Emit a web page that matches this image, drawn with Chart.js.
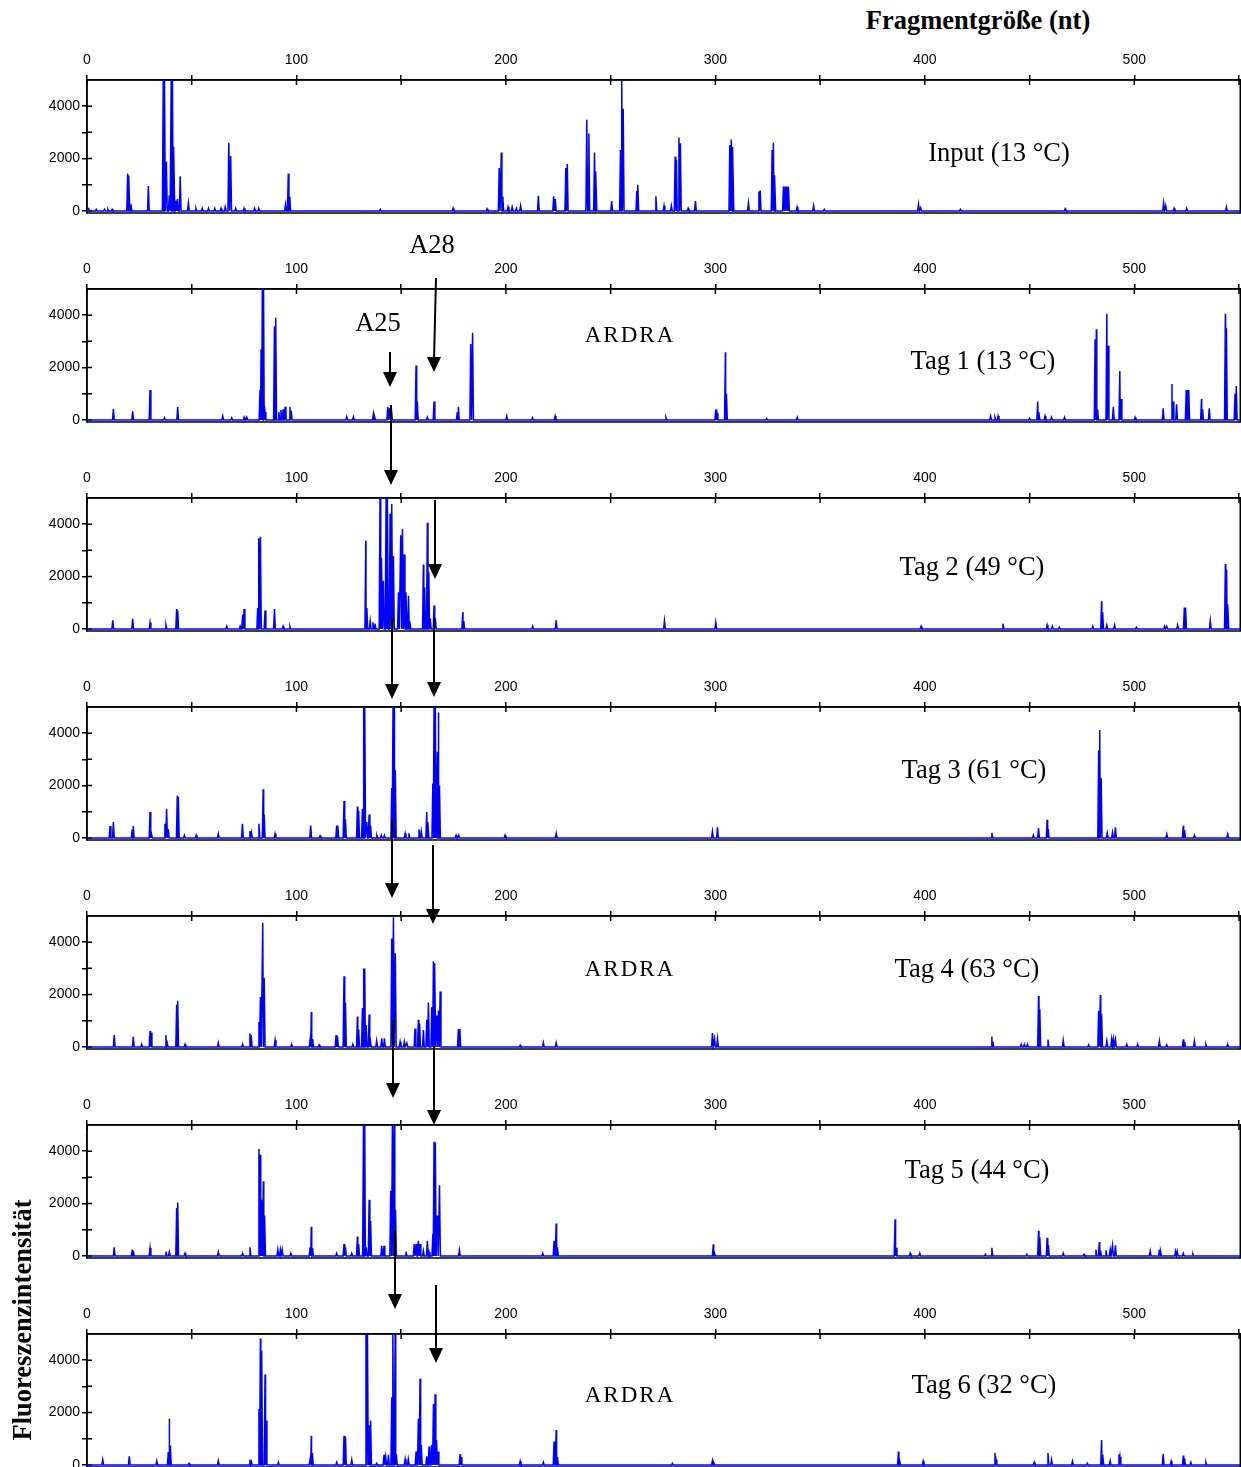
<!DOCTYPE html>
<html>
<head>
<meta charset="utf-8">
<script src="https://cdn.jsdelivr.net/npm/chart.js@4.4.1/dist/chart.umd.min.js"></script>
<style>
  body { margin: 0; background: #fff; }
  #page { position: relative; width: 1241px; height: 1467px; overflow: hidden; }
  canvas.panel { position: absolute; left: 0; }
  .note { position: absolute; transform: translate(-50%, -50%); white-space: nowrap; line-height: 1;
          font-family: "Liberation Serif", "Times New Roman", serif; font-size: 26.5px; color: #000; }
  .bold { font-weight: bold; }
  .ardra { font-size: 23px; letter-spacing: 2px; }
  #arrows { position: absolute; left: 0; top: 0; }
</style>
</head>
<body>
<div id="page"></div>
<script>
// achsen
const xTicks = [0, 50, 100, 150, 200, 250, 300, 350, 400, 450, 500, 550];
const xTickLabels = [0, 100, 200, 300, 400, 500];
const yTicks = [0, 1000, 2000, 3000, 4000];
const yTickLabels = [0, 2000, 4000];
const xMax = 550.6;

const panelTitles = ["Input (13 °C)", "Tag 1 (13 °C)", "Tag 2 (49 °C)", "Tag 3 (61 °C)", "Tag 4 (63 °C)", "Tag 5 (44 °C)", "Tag 6 (32 °C)"];

// peaks: fragmentgröße (nt) und intensität
const inputSize = [0.8, 4.4, 8.4, 10, 12, 19.4, 20.0, 21, 29.3, 36.4, 37.0, 37.9, 39.3, 40.2, 40.8, 41.5, 42.5, 43.2, 44.5, 48.4, 52, 55, 58, 61, 64, 66, 67.7, 68.6, 71, 75, 80, 82, 94.8, 96.1, 96.8, 140, 174.8,
  191, 196.8, 197.8, 198.5, 201, 203, 205, 207, 215.5, 222.8, 223.6, 228.6, 229.3, 238.6, 239.6, 242.3, 243, 250.5, 254.7, 255.3, 256, 262.5, 263, 271.6, 275.5, 279, 280.8, 281.4, 282.6, 283.3, 287, 290.5, 306.9, 307.6, 308.4, 315.8, 320.8, 321.4, 327.1, 327.7, 328.4, 332.5, 333.3, 334.1, 334.9, 339, 346.9, 352,
  397, 398, 417, 467, 514, 515, 519, 525, 544];
const inputHeight = [80, 60, 60, 60, 60, 1430, 1350, 250, 950, 5000, 5000, 1880, 600, 5000, 5000, 2450, 400, 450, 1320, 300, 100, 100, 100, 100, 100, 150, 2600, 2100, 100, 100, 100, 100, 250, 1430, 550, 60, 100,
  80, 1640, 2230, 550, 150, 150, 100, 200, 580, 560, 450, 1640, 1790, 3480, 2960, 2230, 1500, 380, 2330, 5000, 3900, 770, 1000, 560, 200, 200, 2080, 1950, 2800, 2580, 100, 380, 2520, 2730, 2450, 300, 740, 780, 2330, 2600, 1360, 930, 930, 930, 930, 150, 200, 60,
  250, 120, 60, 80, 300, 200, 100, 100, 150];

const tag1Size = [12.6, 21.8, 30.1, 37, 43.3, 64.8, 69.1, 75, 76.3,
  82.6, 83.1, 83.7, 84.5, 85, 89.5, 90.1, 91.6, 92.6, 93.6, 94.6, 96.9, 97.5,
  124, 127.2, 136.7, 137.3, 143.6, 144.5, 145.4, 157.1, 157.7, 162.5, 165.7, 176.8, 177.3, 183.2, 184.1, 200.4, 212.7, 223.5,
  276.4, 300.2, 300.8, 304.8, 305.3, 324.5, 339.1,
  431.4, 433.5, 435, 450, 453.9, 454.5, 457.4, 460.5, 466.7,
  481.3, 481.9, 482.5, 486.9, 487.5, 490, 493.1, 493.7, 500.4,
  513.8, 518, 518.5, 520.2, 524.8, 525.4, 526, 532.1, 532.6, 535.8, 543.5, 544, 548.1, 548.7];
const tag1Height = [410, 330, 1140, 80, 490, 150, 80, 100, 100,
  1140, 2700, 5000, 5000, 300, 3580, 3900, 300, 380, 400, 500, 500, 350,
  120, 120, 200, 120, 500, 450, 350, 2080, 700, 100, 700, 300, 500, 2900, 3330, 150, 80, 150,
  100, 400, 250, 2580, 1000, 60, 100,
  150, 100, 150, 60, 700, 300, 150, 100, 100,
  3080, 3460, 400, 4050, 2830, 500, 1870, 800, 100,
  440, 1370, 700, 600, 1140, 1140, 1140, 800, 400, 440, 4050, 3500, 1000, 1290];

const tag2Size = [12.3, 21.8, 30.1, 37.7, 42.8, 43.3, 66.7, 73.1, 74.3, 75,
  81.5, 82.1, 82.8, 85, 89.5, 93.6, 96.9,
  133.1, 133.6, 135.2, 136.5, 137.5, 139.9, 140.6, 141.5, 142.8, 143.4, 144.7, 145.5, 146.3, 148.7, 149.8, 150.6, 151.4, 152.3, 153.5, 154.2,
  160.6, 161.2, 162.5, 163.2, 163.9, 165.7, 166.3, 179.4, 179.9, 212.8, 224,
  275.7, 300.2, 398.2, 437.3, 458.4, 460.9, 464.2, 480.2, 484.4, 484.9, 486.9, 490.6, 501,
  514.5, 515.5, 520.7, 523.9, 524.5, 536.3, 543.5, 544.1, 544.7];
const tag2Height = [330, 390, 240, 150, 760, 700, 100, 100, 540, 760,
  800, 3460, 3520, 700, 760, 100, 100,
  3370, 800, 300, 250, 200, 5000, 2720, 1840, 5000, 5000, 4400, 4770, 2780, 1400, 3580, 3830, 2840, 1400, 1270, 300,
  2460, 1580, 4050, 2150, 400, 890, 400, 640, 300, 100, 330,
  310, 250, 100, 200, 150, 100, 60, 100, 1060, 630, 150, 150, 60,
  100, 100, 150, 815, 815, 310, 2480, 2260, 940];

const tag3Size = [11, 12.6, 21.6, 22.1, 30.1, 30.8, 37.2, 38, 38.8, 43.1, 43.6, 46.5, 52.1, 62.7,
  74.2, 77.8, 78.5, 82.1, 84.1, 84.6, 89.8, 106.8, 111.3, 119.2, 119.8, 122.7, 123.4,
  129.1, 129.7, 131.5, 132, 132.6, 133.6, 134.7, 135.4, 138.4, 140.5, 142,
  145.5, 146.1, 146.7, 147.2, 151.9, 153.7, 158.5, 159.6, 162.2, 162.8,
  165.1, 165.7, 166.3, 167.3, 167.8, 168.3, 176.2, 177.5, 199.6, 224,
  298.6, 301, 432, 451.8, 454.3, 458.4, 458.9, 483, 483.6, 484.2, 487.1, 489.6, 491, 515.5, 523.4, 524, 528.7, 544.6];
const tag3Height = [450, 610, 325, 450, 990, 150, 540, 1110, 330, 1610, 1560, 100, 100, 160,
  540, 260, 200, 540, 1860, 890, 160, 475, 80, 475, 475, 1410, 700,
  1200, 1040, 1110, 5000, 5000, 610, 890, 475, 100, 100, 100,
  1910, 5000, 5000, 2580, 175, 175, 325, 250, 990, 610,
  2080, 5000, 5000, 3290, 4790, 2000, 100, 100, 100, 175,
  250, 400, 190, 100, 375, 690, 340, 3350, 4120, 2280, 190, 210, 400, 150, 460, 300, 100, 150];

const tag4Size = [13, 22.1, 26.1, 30.1, 30.6, 37.7, 38.3, 42.8, 43.3, 46.8, 62.7, 74.3, 77.8, 78.4,
  82.1, 82.8, 83.9, 84.6, 89.8, 97.7, 106.5, 107.1, 107.7, 110.8, 118.9, 119.6, 122.7, 123.4, 126.9,
  129.1, 129.7, 131.5, 132, 132.6, 133.3, 134.7, 135.3, 138.3, 140.7, 142,
  145.5, 146.3, 147.2, 149.5, 151.5, 152.7, 156.6, 158.2, 158.8, 160.6, 162.2, 163,
  164.6, 165.4, 166.1, 167, 167.8, 168.6, 177.3, 178, 206.8, 217.9, 224,
  298.6, 299.6, 301, 432, 432.5, 446, 447.5, 449, 454.3, 454.9, 458.8, 466.1, 478.2,
  483, 483.8, 484.4, 486.9, 489.2, 490, 491, 496.4, 501.6, 512, 515.5, 523.4, 524, 528.7, 534.2, 544.6];
const tag4Height = [450, 390, 100, 610, 540, 450, 150, 1610, 1760, 100, 160, 100, 510, 450,
  950, 1910, 4740, 2640, 260, 100, 260, 1330, 300, 80, 450, 400, 2700, 1700, 100,
  1160, 660, 1490, 2990, 2990, 830, 1240, 240, 240, 330, 330,
  4140, 4950, 3580, 200, 200, 150, 700, 1040, 890, 640, 1040, 1700,
  1510, 3270, 3200, 1200, 1390, 2120, 680, 680, 60, 160, 160,
  530, 310, 310, 400, 200, 100, 100, 100, 1940, 1440, 275, 250, 80,
  1380, 1980, 1250, 225, 290, 290, 290, 100, 100, 225, 80, 290, 200, 225, 100, 100];

const tag5Size = [13, 21.6, 22.1, 30.1, 37.7, 39.3, 42.8, 43.3, 46.8, 62.7, 74.3, 77.8,
  82.1, 82.6, 83.3, 84.2, 84.8, 91.1, 92.3, 93.2, 97.3, 106.5, 107.1, 107.7, 119.2, 122.7, 123.4, 126.4,
  129.1, 129.7, 132, 132.6, 133.3, 134.7, 135.4, 140.7, 141.8,
  145, 145.8, 146.6, 147.3, 152.3, 156.2, 157.1, 158.2, 159, 160.6, 162.5, 163.3,
  165.1, 165.7, 166.3, 167.3, 168.3, 177.8, 217.6, 223, 224, 224.6,
  299, 299.6, 385.8, 386.3, 393, 397.6, 428.9, 432, 448.7, 454.3, 454.9, 458.4, 459, 466.1, 476,
  481.7, 483.3, 483.9, 486.5, 488.5, 489.6, 491, 507.6, 512, 512.6, 519.7, 520.5, 523.4, 528];
const tag5Height = [325, 240, 200, 300, 160, 160, 1830, 2040, 100, 150, 100, 330,
  4080, 3860, 2140, 2850, 1540, 240, 240, 240, 100, 330, 1110, 300, 100, 450, 330, 100,
  740, 450, 5000, 5000, 330, 2140, 1330, 390, 390,
  2490, 5000, 5000, 1760, 160, 450, 450, 575, 450, 200, 575, 150,
  825, 4360, 4320, 1540, 2700, 225, 100, 575, 1240, 330,
  440, 100, 1400, 310, 100, 100, 60, 310, 60, 960, 710, 690, 400, 100, 60,
  240, 530, 200, 210, 240, 400, 400, 190, 240, 150, 175, 175, 100, 80];

const tag6Size = [7.5, 20.2, 33.3, 38.8, 39.3, 39.8, 48.7, 62.7, 77.8, 78.5,
  82.1, 82.8, 83.4, 85, 85.5, 91.4, 106.5, 107.1, 107.6, 119.2, 122.7, 123.4, 126.4,
  133.2, 133.9, 134.8, 135.4, 138.3, 141.8, 142.6, 143.9, 145.5, 146, 147.1, 147.7,
  151.9, 153.4, 157.1, 158.2, 159, 159.6, 162.2, 163.3, 164.6, 165.4, 166.2, 166.9, 167.6,
  178.1, 178.6, 206.8, 217.9, 223, 224, 224.6,
  279.5, 298.6, 299.3, 387.4, 388, 399.2, 433.5, 434, 452.2, 458.8, 460.5, 470.5, 477.6,
  484.4, 485, 488.5, 492.7, 493.2, 513.8, 517.6, 523.4, 524, 527, 534.2];
const tag6Height = [200, 330, 160, 490, 1760, 740, 60, 160, 200, 120,
  2140, 4830, 4360, 3450, 1700, 100, 200, 1110, 450, 100, 1110, 1070, 200,
  5000, 5000, 1510, 1700, 60, 390, 300, 390, 2580, 5000, 5000, 400,
  225, 225, 510, 1760, 3290, 760, 330, 700, 760, 2330, 2700, 950, 510,
  410, 300, 140, 100, 890, 1330, 300,
  60, 160, 100, 510, 150, 140, 450, 200, 100, 450, 200, 140, 60,
  950, 390, 160, 410, 300, 410, 140, 360, 250, 100, 100];

const panels = [
  [inputSize, inputHeight], [tag1Size, tag1Height], [tag2Size, tag2Height], [tag3Size, tag3Height],
  [tag4Size, tag4Height], [tag5Size, tag5Height], [tag6Size, tag6Height]
];

const page = document.getElementById("page");
const panelTop = 45, panelStep = 209, panelH = 180;
const peakHalf = 0.4;
const tickFont = { family: "'Liberation Sans Narrow', 'Liberation Sans', Arial, sans-serif", size: 14 };

// jeder peak wird ein schmales dreieck auf der grundlinie
function buildTrace(sizes, heights) {
  const pts = [{ x: 0, y: 0 }, { x: xMax, y: 0 }];
  sizes.forEach((s, i) => {
    pts.push({ x: s - peakHalf, y: 0 }, { x: s, y: heights[i] }, { x: s + peakHalf, y: 0 });
  });
  return pts.sort((a, b) => a.x - b.x);
}

// rahmen und nach innen zeigende ticks
const boxPlugin = {
  id: "box",
  beforeDatasetsDraw(chart) {
    const { ctx, chartArea: a, scales } = chart;
    ctx.save();
    ctx.strokeStyle = "#000";
    ctx.lineWidth = 1.5;
    ctx.strokeRect(a.left, a.top, a.right - a.left, a.bottom - a.top);
    ctx.beginPath();
    scales.x.ticks.forEach(t => {
      const px = scales.x.getPixelForValue(t.value);
      ctx.moveTo(px, a.top);
      ctx.lineTo(px, a.top + 5);
    });
    scales.y.ticks.forEach(t => {
      const py = scales.y.getPixelForValue(t.value);
      ctx.moveTo(a.left, py);
      ctx.lineTo(a.left + 5, py);
    });
    ctx.stroke();
    ctx.restore();
  }
};

panels.forEach(([sizes, heights], k) => {
  const canvas = document.createElement("canvas");
  canvas.className = "panel";
  canvas.width = 1245;
  canvas.height = panelH;
  canvas.style.top = (panelTop + panelStep * k) + "px";
  page.appendChild(canvas);

  new Chart(canvas.getContext("2d"), {
    type: "line",
    data: {
      datasets: [{
        label: panelTitles[k],
        data: buildTrace(sizes, heights),
        borderColor: "rgb(0, 0, 255)",
        borderWidth: 1.5,
        pointRadius: 0,
        tension: 0,
        fill: false
      }]
    },
    options: {
      responsive: false,
      animation: false,
      events: [],
      layout: { padding: { left: 0, right: 1, top: 0, bottom: 12 } },
      plugins: { legend: { display: false }, tooltip: { enabled: false } },
      scales: {
        x: {
          type: "linear",
          position: "top",
          min: 0,
          max: xMax,
          afterFit(scale) { scale.height = 35; },
          afterBuildTicks(scale) { scale.ticks = xTicks.map(v => ({ value: v })); },
          border: { display: true, color: "#000", width: 1.5 },
          grid: { drawOnChartArea: false, drawTicks: true, tickLength: 5, color: "#000", lineWidth: 1.5 },
          ticks: {
            autoSkip: false,
            maxRotation: 0,
            padding: 6,
            color: "#000",
            font: tickFont,
            callback: v => xTickLabels.includes(v) ? String(v) : ""
          }
        },
        y: {
          min: -80,
          max: 5000,
          afterFit(scale) { scale.width = 87; },
          afterBuildTicks(scale) { scale.ticks = yTicks.map(v => ({ value: v })); },
          border: { display: true, color: "#000", width: 1.5 },
          grid: { drawOnChartArea: false, drawTicks: true, tickLength: 5, color: "#000", lineWidth: 1.5 },
          ticks: {
            autoSkip: false,
            padding: 2,
            color: "#000",
            font: tickFont,
            callback: v => yTickLabels.includes(v) ? String(v) : ""
          }
        }
      }
    },
    plugins: [boxPlugin]
  });
});

// beschriftungen
const notes = [
  ["Fragmentgröße (nt)", 978, 20, "bold"],
  ["A28", 432, 244, ""],
  ["A25", 378, 322, ""],
  ["ARDRA", 630, 334, "ardra"],
  ["ARDRA", 630, 968, "ardra"],
  ["ARDRA", 630, 1394, "ardra"]
];
const titlePos = [[999, 152], [983, 360], [972, 566], [974, 769], [967, 968], [977, 1169], [984, 1384]];
panelTitles.forEach((t, i) => notes.push([t, titlePos[i][0], titlePos[i][1], ""]));

notes.forEach(([text, x, y, cls]) => {
  const d = document.createElement("div");
  d.className = "note " + cls;
  d.textContent = text;
  d.style.left = x + "px";
  d.style.top = y + "px";
  page.appendChild(d);
});

const ylab = document.createElement("div");
ylab.className = "note bold";
ylab.textContent = "Fluoreszenzintensität";
ylab.style.left = "22px";
ylab.style.top = "1320px";
ylab.style.transform = "translate(-50%, -50%) rotate(-90deg)";
page.appendChild(ylab);

// pfeile
const arrows = [
  [436, 278, 434, 372], [390, 352, 390, 387], [391, 405, 391, 485], [435, 500, 435, 579],
  [392, 618, 392, 699], [434, 617, 434, 697], [392, 820, 392, 898], [433, 845, 433, 924],
  [393, 1020, 393, 1098], [434, 1046, 434, 1125], [395, 1230, 395, 1309], [436, 1285, 436, 1363]
];
const ns = "http://www.w3.org/2000/svg";
const svg = document.createElementNS(ns, "svg");
svg.setAttribute("id", "arrows");
svg.setAttribute("width", 1241);
svg.setAttribute("height", 1467);
arrows.forEach(([x1, y1, x2, y2]) => {
  const line = document.createElementNS(ns, "line");
  line.setAttribute("x1", x1); line.setAttribute("y1", y1);
  line.setAttribute("x2", x2); line.setAttribute("y2", y2 - 12);
  line.setAttribute("stroke", "#000"); line.setAttribute("stroke-width", 2);
  svg.appendChild(line);
  const head = document.createElementNS(ns, "polygon");
  head.setAttribute("points", `${x2 - 7},${y2 - 15} ${x2 + 7},${y2 - 15} ${x2},${y2}`);
  head.setAttribute("fill", "#000");
  svg.appendChild(head);
});
page.appendChild(svg);
</script>
</body>
</html>
